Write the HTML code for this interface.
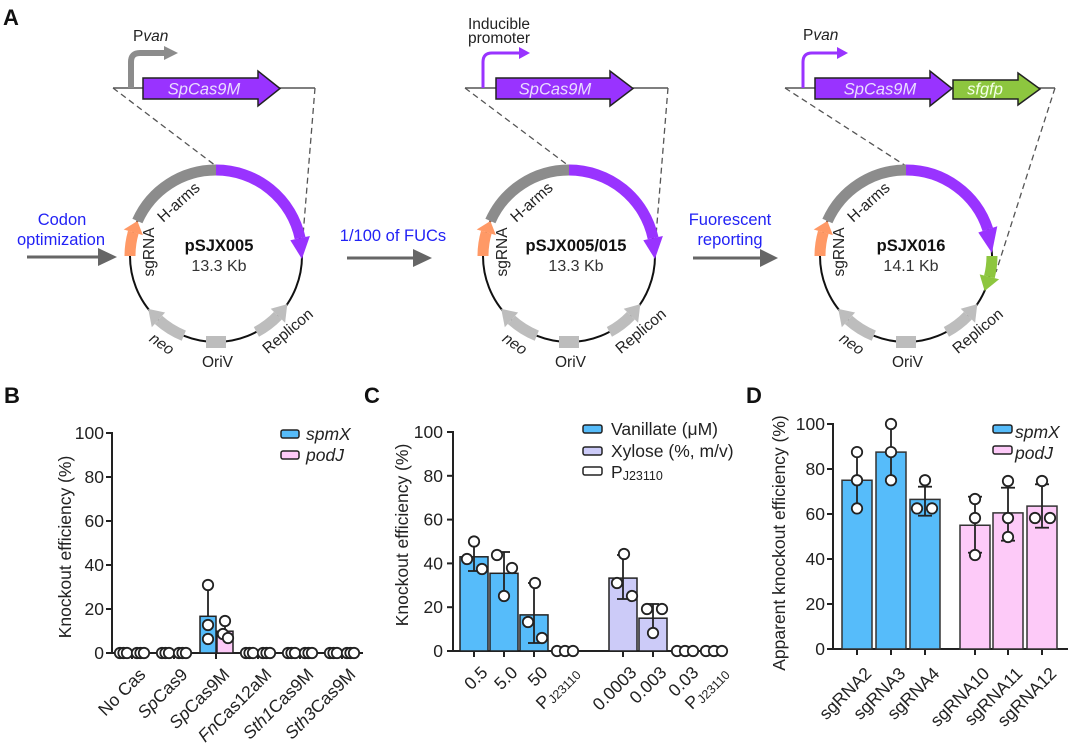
<!DOCTYPE html>
<html><head><meta charset="utf-8">
<style>
html,body{margin:0;padding:0;background:#fff;}
svg{display:block;font-family:"Liberation Sans",Arial,sans-serif;}
</style></head><body>
<svg width="1080" height="749" viewBox="0 0 1080 749" xmlns="http://www.w3.org/2000/svg">
<rect width="1080" height="749" fill="#fff"/>

<!-- Panel letters -->
<text x="3" y="25" font-size="22" font-weight="bold" fill="#111">A</text>
<text x="4" y="403" font-size="22" font-weight="bold" fill="#111">B</text>
<text x="364" y="403" font-size="22" font-weight="bold" fill="#111">C</text>
<text x="746" y="403" font-size="22" font-weight="bold" fill="#111">D</text>

<!-- ===== Panel A: constructs ===== -->
<g fill="none" stroke="#555" stroke-width="1.3" stroke-dasharray="6,4">
  <line x1="113" y1="88" x2="216" y2="166"/>
  <line x1="315" y1="88" x2="302" y2="248"/>
  <line x1="465" y1="88" x2="569" y2="166"/>
  <line x1="668" y1="88" x2="655" y2="248"/>
  <line x1="785" y1="88" x2="906" y2="166"/>
  <line x1="1055" y1="88" x2="996" y2="272"/>
</g>
<g stroke="#555" stroke-width="1.5">
  <line x1="113" y1="88" x2="315" y2="88"/>
  <line x1="465" y1="88" x2="668" y2="88"/>
  <line x1="785" y1="88" x2="1055" y2="88"/>
</g>

<!-- left construct -->
<path d="M131 88 V62 Q131 53 140 53 H166" fill="none" stroke="#8c8c8c" stroke-width="6"/>
<polygon points="164,46 178,53 164,60" fill="#8c8c8c"/>
<text x="133" y="41" font-size="15.5" fill="#222">P<tspan font-style="italic">van</tspan></text>
<polygon points="143,78 258,78 258,71 280,88.5 258,106 258,99 143,99" fill="#9933ff" stroke="#222" stroke-width="1.5"/>
<text x="204" y="94.5" font-size="16.5" font-style="italic" fill="#eadcff" text-anchor="middle">SpCas9M</text>

<!-- middle construct -->
<path d="M483 88 V62 Q483 53 492 53 H520" fill="none" stroke="#9933ff" stroke-width="3"/>
<polygon points="519,47 530,53 519,59" fill="#9933ff"/>
<text x="468" y="29" font-size="15.5" fill="#222">Inducible</text>
<text x="468" y="43" font-size="15.5" fill="#222">promoter</text>
<polygon points="496,78 610,78 610,71 633,88.5 610,106 610,99 496,99" fill="#9933ff" stroke="#222" stroke-width="1.5"/>
<text x="555" y="94.5" font-size="16.5" font-style="italic" fill="#eadcff" text-anchor="middle">SpCas9M</text>

<!-- right construct -->
<path d="M803 88 V62 Q803 53 812 53 H838" fill="none" stroke="#9933ff" stroke-width="3"/>
<polygon points="837,47 848,53 837,59" fill="#9933ff"/>
<text x="803" y="40" font-size="15.5" fill="#222">P<tspan font-style="italic">van</tspan></text>
<polygon points="815,78 930,78 930,71 952,88.5 930,106 930,99 815,99" fill="#9933ff" stroke="#222" stroke-width="1.5"/>
<text x="880" y="94.5" font-size="16.5" font-style="italic" fill="#eadcff" text-anchor="middle">SpCas9M</text>
<polygon points="953,80 1018,80 1018,73 1040,89 1018,105 1018,99 953,99" fill="#8dc63f" stroke="#222" stroke-width="1.5"/>
<text x="985" y="94.5" font-size="16.5" font-style="italic" fill="#f4ffe8" text-anchor="middle">sfgfp</text>

<!-- transition arrows + blue text -->
<g fill="#2222f5" font-size="16.5" text-anchor="middle">
  <text x="62" y="225">Codon</text>
  <text x="61" y="245">optimization</text>
  <text x="393" y="241">1/100 of FUCs</text>
  <text x="730" y="225">Fuorescent</text>
  <text x="730" y="245">reporting</text>
</g>
<g stroke="#666" stroke-width="3">
  <line x1="27" y1="257" x2="102" y2="257"/>
  <line x1="347" y1="258" x2="416" y2="258"/>
  <line x1="693" y1="258" x2="763" y2="258"/>
</g>
<g fill="#666">
  <polygon points="98,248 117,257 98,266"/>
  <polygon points="413,249 432,258 413,267"/>
  <polygon points="760,249 778,258 760,267"/>
</g>

<!-- Plasmid 1 -->
<g transform="translate(216,256)">
  <circle r="86" fill="none" stroke="#111" stroke-width="2"/>
  <path d="M-78.6 -35 A86 86 0 0 1 0 -86" fill="none" stroke="#8c8c8c" stroke-width="11"/>
  <path d="M0 -86 A86 86 0 0 1 84.1 -17.9" fill="none" stroke="#9933ff" stroke-width="11"/>
  <polygon points="74.3,-15.8 93.9,-20 85.9,3" fill="#9933ff"/>
  <path d="M-86 0 A86 86 0 0 1 -82.7 -23.7" fill="none" stroke="#ff9966" stroke-width="11"/>
  <polygon points="-73.1,-20.9 -92.3,-26.5 -78.6,-35" fill="#ff9966"/>
  <path d="M-32.2 79.7 A86 86 0 0 1 -57.5 63.9" fill="none" stroke="#bdbdbd" stroke-width="11"/>
  <polygon points="-50.9,56.5 -64.2,71.3 -67.8,52.9" fill="#bdbdbd"/>
  <path d="M40.4 75.9 A86 86 0 0 0 61.9 59.7" fill="none" stroke="#bdbdbd" stroke-width="11"/>
  <polygon points="54.7,52.8 69.1,66.7 71.3,48.1" fill="#bdbdbd"/>
  <rect x="-10" y="80" width="20" height="12" fill="#bdbdbd"/>
  <g font-size="15.5" fill="#222" text-anchor="middle">
    <text transform="translate(-34,-50) rotate(-42)">H-arms</text>
    <text transform="translate(-62,-4) rotate(-90)">sgRNA</text>
    <text transform="translate(-57,92) rotate(35)" font-style="italic">neo</text>
    <text x="1.5" y="111">OriV</text>
    <text transform="translate(75,79) rotate(-40)">Replicon</text>
    <text x="3" y="-5" font-size="16.5" font-weight="bold" fill="#111">pSJX005</text>
    <text x="3" y="15" font-size="16" fill="#333">13.3 Kb</text>
  </g>
</g>

<!-- Plasmid 2 -->
<g transform="translate(569,256)">
  <circle r="86" fill="none" stroke="#111" stroke-width="2"/>
  <path d="M-78.6 -35 A86 86 0 0 1 0 -86" fill="none" stroke="#8c8c8c" stroke-width="11"/>
  <path d="M0 -86 A86 86 0 0 1 84.1 -17.9" fill="none" stroke="#9933ff" stroke-width="11"/>
  <polygon points="74.3,-15.8 93.9,-20 85.9,3" fill="#9933ff"/>
  <path d="M-86 0 A86 86 0 0 1 -82.7 -23.7" fill="none" stroke="#ff9966" stroke-width="11"/>
  <polygon points="-73.1,-20.9 -92.3,-26.5 -78.6,-35" fill="#ff9966"/>
  <path d="M-32.2 79.7 A86 86 0 0 1 -57.5 63.9" fill="none" stroke="#bdbdbd" stroke-width="11"/>
  <polygon points="-50.9,56.5 -64.2,71.3 -67.8,52.9" fill="#bdbdbd"/>
  <path d="M40.4 75.9 A86 86 0 0 0 61.9 59.7" fill="none" stroke="#bdbdbd" stroke-width="11"/>
  <polygon points="54.7,52.8 69.1,66.7 71.3,48.1" fill="#bdbdbd"/>
  <rect x="-10" y="80" width="20" height="12" fill="#bdbdbd"/>
  <g font-size="15.5" fill="#222" text-anchor="middle">
    <text transform="translate(-34,-50) rotate(-42)">H-arms</text>
    <text transform="translate(-62,-4) rotate(-90)">sgRNA</text>
    <text transform="translate(-57,92) rotate(35)" font-style="italic">neo</text>
    <text x="1.5" y="111">OriV</text>
    <text transform="translate(75,79) rotate(-40)">Replicon</text>
    <text x="7" y="-5" font-size="16.5" font-weight="bold" fill="#111">pSJX005/015</text>
    <text x="7" y="15" font-size="16" fill="#333">13.3 Kb</text>
  </g>
</g>

<!-- Plasmid 3 -->
<g transform="translate(906,256)">
  <circle r="86" fill="none" stroke="#111" stroke-width="2"/>
  <path d="M-78.6 -35 A86 86 0 0 1 0 -86" fill="none" stroke="#8c8c8c" stroke-width="11"/>
  <path d="M0 -86 A86 86 0 0 1 81.8 -26.6" fill="none" stroke="#9933ff" stroke-width="11"/>
  <polygon points="72.3,-23.5 91.3,-29.7 85.9,-3" fill="#9933ff"/>
  <path d="M86 0 A86 86 0 0 1 83.4 20.8" fill="none" stroke="#8dc63f" stroke-width="11"/>
  <polygon points="73.7,18.4 93.1,23.2 78.6,35" fill="#8dc63f"/>
  <path d="M-86 0 A86 86 0 0 1 -82.7 -23.7" fill="none" stroke="#ff9966" stroke-width="11"/>
  <polygon points="-73.1,-20.9 -92.3,-26.5 -78.6,-35" fill="#ff9966"/>
  <path d="M-32.2 79.7 A86 86 0 0 1 -57.5 63.9" fill="none" stroke="#bdbdbd" stroke-width="11"/>
  <polygon points="-50.9,56.5 -64.2,71.3 -67.8,52.9" fill="#bdbdbd"/>
  <path d="M40.4 75.9 A86 86 0 0 0 61.9 59.7" fill="none" stroke="#bdbdbd" stroke-width="11"/>
  <polygon points="54.7,52.8 69.1,66.7 71.3,48.1" fill="#bdbdbd"/>
  <rect x="-10" y="80" width="20" height="12" fill="#bdbdbd"/>
  <g font-size="15.5" fill="#222" text-anchor="middle">
    <text transform="translate(-34,-50) rotate(-42)">H-arms</text>
    <text transform="translate(-62,-4) rotate(-90)">sgRNA</text>
    <text transform="translate(-57,92) rotate(35)" font-style="italic">neo</text>
    <text x="1.5" y="111">OriV</text>
    <text transform="translate(75,79) rotate(-40)">Replicon</text>
    <text x="5" y="-5" font-size="16.5" font-weight="bold" fill="#111">pSJX016</text>
    <text x="5" y="15" font-size="16" fill="#333">14.1 Kb</text>
  </g>
</g>

<!-- ===== Panel B ===== -->
<g stroke="#222" stroke-width="2" fill="none">
  <line x1="112" y1="432" x2="112" y2="654"/>
  <line x1="111" y1="653" x2="363" y2="653"/>
  <line x1="106" y1="653" x2="112" y2="653"/>
  <line x1="106" y1="609" x2="112" y2="609"/>
  <line x1="106" y1="565" x2="112" y2="565"/>
  <line x1="106" y1="521" x2="112" y2="521"/>
  <line x1="106" y1="477" x2="112" y2="477"/>
  <line x1="106" y1="433" x2="112" y2="433"/>
  <line x1="132" y1="653" x2="132" y2="659"/>
  <line x1="174" y1="653" x2="174" y2="659"/>
  <line x1="216" y1="653" x2="216" y2="659"/>
  <line x1="258" y1="653" x2="258" y2="659"/>
  <line x1="300" y1="653" x2="300" y2="659"/>
  <line x1="342" y1="653" x2="342" y2="659"/>
</g>
<g font-size="17.5" fill="#222" text-anchor="end">
  <text x="104" y="659">0</text>
  <text x="104" y="615">20</text>
  <text x="104" y="571">40</text>
  <text x="104" y="527">60</text>
  <text x="104" y="483">80</text>
  <text x="104" y="439">100</text>
</g>
<text transform="translate(71,547) rotate(-90)" font-size="17.5" fill="#222" text-anchor="middle">Knockout efficiency (%)</text>
<g font-size="17.5" fill="#222" text-anchor="end">
  <text transform="translate(146.6,675.6) rotate(-45)">No Cas</text>
  <text transform="translate(188.6,675.6) rotate(-45)"><tspan font-style="italic">Sp</tspan>Cas9</text>
  <text transform="translate(230.6,675.6) rotate(-45)"><tspan font-style="italic">Sp</tspan>Cas9M</text>
  <text transform="translate(272.6,675.6) rotate(-45)"><tspan font-style="italic">Fn</tspan>Cas12aM</text>
  <text transform="translate(314.6,675.6) rotate(-45)"><tspan font-style="italic">Sth1</tspan>Cas9M</text>
  <text transform="translate(356.6,675.6) rotate(-45)"><tspan font-style="italic">Sth3</tspan>Cas9M</text>
</g>
<rect x="200" y="616.3" width="16" height="36.7" fill="#56bcfa" stroke="#222" stroke-width="1.5"/>
<rect x="217" y="631.2" width="16" height="21.8" fill="#fdcaf8" stroke="#222" stroke-width="1.5"/>
<g stroke="#222" stroke-width="1.8" fill="none">
  <line x1="208" y1="585" x2="208" y2="616"/>
  <line x1="203" y1="585" x2="213" y2="585"/>
  <line x1="225" y1="622" x2="225" y2="631"/>
  <line x1="220" y1="622" x2="230" y2="622"/>
</g>
<g fill="#fff" stroke="#222" stroke-width="1.8">
  <circle cx="208" cy="585" r="5.2"/>
  <circle cx="208" cy="625" r="5.2"/>
  <circle cx="208" cy="639" r="5.2"/>
  <circle cx="225" cy="621" r="5.2"/>
  <circle cx="223" cy="634" r="5.2"/>
  <circle cx="228" cy="638" r="5.2"/>
  <circle cx="120" cy="653" r="5.2"/><circle cx="123.5" cy="653" r="5.2"/><circle cx="127" cy="653" r="5.2"/>
  <circle cx="137" cy="653" r="5.2"/><circle cx="140.5" cy="653" r="5.2"/><circle cx="144" cy="653" r="5.2"/>
  <circle cx="162" cy="653" r="5.2"/><circle cx="165.5" cy="653" r="5.2"/><circle cx="169" cy="653" r="5.2"/>
  <circle cx="179" cy="653" r="5.2"/><circle cx="182.5" cy="653" r="5.2"/><circle cx="186" cy="653" r="5.2"/>
  <circle cx="246" cy="653" r="5.2"/><circle cx="249.5" cy="653" r="5.2"/><circle cx="253" cy="653" r="5.2"/>
  <circle cx="263" cy="653" r="5.2"/><circle cx="266.5" cy="653" r="5.2"/><circle cx="270" cy="653" r="5.2"/>
  <circle cx="288" cy="653" r="5.2"/><circle cx="291.5" cy="653" r="5.2"/><circle cx="295" cy="653" r="5.2"/>
  <circle cx="305" cy="653" r="5.2"/><circle cx="308.5" cy="653" r="5.2"/><circle cx="312" cy="653" r="5.2"/>
  <circle cx="330" cy="653" r="5.2"/><circle cx="333.5" cy="653" r="5.2"/><circle cx="337" cy="653" r="5.2"/>
  <circle cx="347" cy="653" r="5.2"/><circle cx="350.5" cy="653" r="5.2"/><circle cx="354" cy="653" r="5.2"/>
</g>
<rect x="281" y="430" width="18" height="8" rx="2" fill="#56bcfa" stroke="#222" stroke-width="1.5"/>
<rect x="281" y="451" width="18" height="8" rx="2" fill="#fdcaf8" stroke="#222" stroke-width="1.5"/>
<text x="306" y="440" font-size="17.5" font-style="italic" fill="#222">spmX</text>
<text x="306" y="461" font-size="17.5" font-style="italic" fill="#222">podJ</text>

<!-- ===== Panel C ===== -->
<g stroke="#222" stroke-width="2" fill="none">
  <line x1="453" y1="431" x2="453" y2="652"/>
  <line x1="452" y1="651" x2="728" y2="651"/>
  <line x1="447" y1="651" x2="453" y2="651"/>
  <line x1="447" y1="607.2" x2="453" y2="607.2"/>
  <line x1="447" y1="563.4" x2="453" y2="563.4"/>
  <line x1="447" y1="519.6" x2="453" y2="519.6"/>
  <line x1="447" y1="475.8" x2="453" y2="475.8"/>
  <line x1="447" y1="432" x2="453" y2="432"/>
  <line x1="474" y1="651" x2="474" y2="657"/>
  <line x1="504" y1="651" x2="504" y2="657"/>
  <line x1="534" y1="651" x2="534" y2="657"/>
  <line x1="565" y1="651" x2="565" y2="657"/>
  <line x1="623" y1="651" x2="623" y2="657"/>
  <line x1="653" y1="651" x2="653" y2="657"/>
  <line x1="685" y1="651" x2="685" y2="657"/>
  <line x1="714" y1="651" x2="714" y2="657"/>
</g>
<g font-size="17.5" fill="#222" text-anchor="end">
  <text x="443" y="657">0</text>
  <text x="443" y="613.2">20</text>
  <text x="443" y="569.4">40</text>
  <text x="443" y="525.6">60</text>
  <text x="443" y="481.8">80</text>
  <text x="443" y="438">100</text>
</g>
<text transform="translate(408,535) rotate(-90)" font-size="17.5" fill="#222" text-anchor="middle">Knockout efficiency (%)</text>
<g font-size="17.5" fill="#222" text-anchor="end">
  <text transform="translate(488.6,673.6) rotate(-45)">0.5</text>
  <text transform="translate(518.6,673.6) rotate(-45)">5.0</text>
  <text transform="translate(548.6,673.6) rotate(-45)">50</text>
  <text transform="translate(579.6,673.6) rotate(-45)">P<tspan font-size="12.5" dy="3">J23110</tspan></text>
  <text transform="translate(637.6,673.6) rotate(-45)">0.0003</text>
  <text transform="translate(667.6,673.6) rotate(-45)">0.003</text>
  <text transform="translate(699.6,673.6) rotate(-45)">0.03</text>
  <text transform="translate(728.6,673.6) rotate(-45)">P<tspan font-size="12.5" dy="3">J23110</tspan></text>
</g>
<g stroke="#222" stroke-width="1.5">
  <rect x="460" y="556.8" width="28" height="94.2" fill="#56bcfa"/>
  <rect x="490" y="573.3" width="28" height="77.7" fill="#56bcfa"/>
  <rect x="520" y="614.9" width="28" height="36.1" fill="#56bcfa"/>
  <rect x="609" y="578.1" width="28" height="72.9" fill="#cccbf8"/>
  <rect x="639" y="618.2" width="28" height="32.8" fill="#cccbf8"/>
</g>
<g stroke="#222" stroke-width="1.8" fill="none">
  <line x1="474" y1="542" x2="474" y2="571"/><line x1="468" y1="542" x2="480" y2="542"/><line x1="468" y1="571" x2="480" y2="571"/>
  <line x1="504" y1="552" x2="504" y2="596"/><line x1="498" y1="552" x2="510" y2="552"/><line x1="498" y1="596" x2="510" y2="596"/>
  <line x1="534" y1="583" x2="534" y2="643"/><line x1="528" y1="583" x2="540" y2="583"/><line x1="528" y1="643" x2="540" y2="643"/>
  <line x1="623" y1="555" x2="623" y2="599"/><line x1="617" y1="555" x2="629" y2="555"/><line x1="617" y1="599" x2="629" y2="599"/>
  <line x1="653" y1="604" x2="653" y2="633"/><line x1="647" y1="604" x2="659" y2="604"/><line x1="647" y1="633" x2="659" y2="633"/>
</g>
<g fill="#fff" stroke="#222" stroke-width="1.8">
  <circle cx="474" cy="541.5" r="5.2"/><circle cx="467" cy="559" r="5.2"/><circle cx="482" cy="569" r="5.2"/>
  <circle cx="497" cy="555" r="5.2"/><circle cx="512" cy="568" r="5.2"/><circle cx="504" cy="596" r="5.2"/>
  <circle cx="535" cy="583" r="5.2"/><circle cx="528" cy="622" r="5.2"/><circle cx="542" cy="638" r="5.2"/>
  <circle cx="624" cy="554" r="5.2"/><circle cx="617" cy="583" r="5.2"/><circle cx="632" cy="596" r="5.2"/>
  <circle cx="647" cy="609" r="5.2"/><circle cx="662" cy="609" r="5.2"/><circle cx="653" cy="633" r="5.2"/>
  <circle cx="557" cy="651" r="5.2"/><circle cx="565" cy="651" r="5.2"/><circle cx="573" cy="651" r="5.2"/>
  <circle cx="677" cy="651" r="5.2"/><circle cx="685" cy="651" r="5.2"/><circle cx="693" cy="651" r="5.2"/>
  <circle cx="706" cy="651" r="5.2"/><circle cx="714" cy="651" r="5.2"/><circle cx="722" cy="651" r="5.2"/>
</g>
<rect x="583" y="425" width="19" height="8" rx="2" fill="#56bcfa" stroke="#222" stroke-width="1.5"/>
<rect x="583" y="447" width="19" height="8" rx="2" fill="#cccbf8" stroke="#222" stroke-width="1.5"/>
<rect x="583" y="467" width="19" height="8" rx="2" fill="#fff" stroke="#222" stroke-width="1.5"/>
<g font-size="17.5" fill="#222">
  <text x="611" y="435">Vanillate (μM)</text>
  <text x="611" y="457">Xylose (%, m/v)</text>
  <text x="611" y="478">P<tspan font-size="12.5" dy="2">J23110</tspan></text>
</g>

<!-- ===== Panel D ===== -->
<g stroke="#222" stroke-width="2" fill="none">
  <line x1="833" y1="423" x2="833" y2="650"/>
  <line x1="832" y1="649" x2="1068" y2="649"/>
  <line x1="827" y1="649" x2="833" y2="649"/>
  <line x1="827" y1="604" x2="833" y2="604"/>
  <line x1="827" y1="559" x2="833" y2="559"/>
  <line x1="827" y1="514" x2="833" y2="514"/>
  <line x1="827" y1="469" x2="833" y2="469"/>
  <line x1="827" y1="424" x2="833" y2="424"/>
  <line x1="857" y1="649" x2="857" y2="655"/>
  <line x1="891" y1="649" x2="891" y2="655"/>
  <line x1="925" y1="649" x2="925" y2="655"/>
  <line x1="975" y1="649" x2="975" y2="655"/>
  <line x1="1008" y1="649" x2="1008" y2="655"/>
  <line x1="1042" y1="649" x2="1042" y2="655"/>
</g>
<g font-size="17.5" fill="#222" text-anchor="end">
  <text x="825" y="655">0</text>
  <text x="825" y="610">20</text>
  <text x="825" y="565">40</text>
  <text x="825" y="520">60</text>
  <text x="825" y="475">80</text>
  <text x="825" y="430">100</text>
</g>
<text transform="translate(785,543) rotate(-90)" font-size="17.5" fill="#222" text-anchor="middle">Apparent knockout efficiency (%)</text>
<g font-size="17.5" fill="#222" text-anchor="end">
  <text transform="translate(872.5,674.6) rotate(-45)">sgRNA2</text>
  <text transform="translate(906.5,674.6) rotate(-45)">sgRNA3</text>
  <text transform="translate(940.5,674.6) rotate(-45)">sgRNA4</text>
  <text transform="translate(990.5,674.6) rotate(-45)">sgRNA10</text>
  <text transform="translate(1023.5,674.6) rotate(-45)">sgRNA11</text>
  <text transform="translate(1057.5,674.6) rotate(-45)">sgRNA12</text>
</g>
<g stroke="#333" stroke-width="1.5">
  <rect x="842" y="480.25" width="30" height="168.75" fill="#56bcfa"/>
  <rect x="876" y="452.1" width="30" height="196.9" fill="#56bcfa"/>
  <rect x="910" y="499.4" width="30" height="149.6" fill="#56bcfa"/>
  <rect x="960" y="525.25" width="30" height="123.75" fill="#fdcaf8"/>
  <rect x="993" y="512.9" width="30" height="136.1" fill="#fdcaf8"/>
  <rect x="1027" y="506.1" width="30" height="142.9" fill="#fdcaf8"/>
</g>
<g stroke="#222" stroke-width="1.8" fill="none">
  <line x1="857" y1="452.1" x2="857" y2="508.4"/><line x1="851" y1="452.1" x2="863" y2="452.1"/><line x1="851" y1="508.4" x2="863" y2="508.4"/>
  <line x1="891" y1="424" x2="891" y2="480.25"/><line x1="885" y1="424" x2="897" y2="424"/><line x1="885" y1="480.25" x2="897" y2="480.25"/>
  <line x1="925" y1="486.7" x2="925" y2="515.7"/><line x1="918" y1="486.7" x2="932" y2="486.7"/><line x1="918" y1="515.7" x2="932" y2="515.7"/>
  <line x1="975" y1="496.7" x2="975" y2="552.7"/><line x1="968" y1="496.7" x2="982" y2="496.7"/><line x1="968" y1="552.7" x2="982" y2="552.7"/>
  <line x1="1008" y1="487.7" x2="1008" y2="540.7"/><line x1="1001" y1="487.7" x2="1015" y2="487.7"/><line x1="1001" y1="540.7" x2="1015" y2="540.7"/>
  <line x1="1042" y1="484.3" x2="1042" y2="527.7"/><line x1="1035" y1="484.3" x2="1049" y2="484.3"/><line x1="1035" y1="527.7" x2="1049" y2="527.7"/>
</g>
<g fill="#fff" stroke="#222" stroke-width="1.8">
  <circle cx="857" cy="452.1" r="5.2"/><circle cx="857" cy="480.25" r="5.2"/><circle cx="857" cy="508.4" r="5.2"/>
  <circle cx="891" cy="424" r="5.2"/><circle cx="891" cy="452.1" r="5.2"/><circle cx="891" cy="480.25" r="5.2"/>
  <circle cx="925" cy="480.25" r="5.2"/><circle cx="917" cy="508.4" r="5.2"/><circle cx="932" cy="508.4" r="5.2"/>
  <circle cx="975" cy="499" r="5.2"/><circle cx="975" cy="518" r="5.2"/><circle cx="975" cy="555" r="5.2"/>
  <circle cx="1008" cy="481" r="5.2"/><circle cx="1008" cy="518" r="5.2"/><circle cx="1008" cy="537" r="5.2"/>
  <circle cx="1042" cy="481" r="5.2"/><circle cx="1035" cy="518" r="5.2"/><circle cx="1050" cy="518" r="5.2"/>
</g>
<rect x="993" y="425" width="19" height="8" rx="2" fill="#56bcfa" stroke="#222" stroke-width="1.5"/>
<rect x="993" y="446" width="19" height="8" rx="2" fill="#fdcaf8" stroke="#222" stroke-width="1.5"/>
<text x="1015" y="438" font-size="17.5" font-style="italic" fill="#222">spmX</text>
<text x="1015" y="459" font-size="17.5" font-style="italic" fill="#222">podJ</text>

</svg>
</body></html>
